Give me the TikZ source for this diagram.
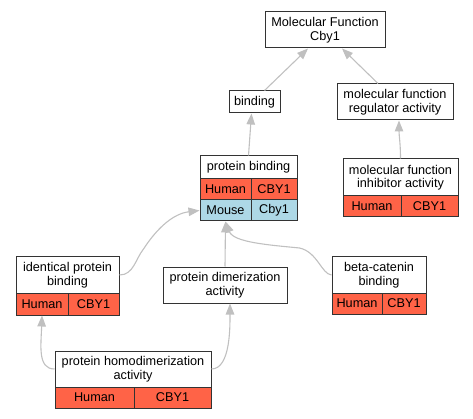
\documentclass[tikz,border=0pt]{standalone}
\usepackage{fontspec}
\setmainfont{Liberation Sans}
\usetikzlibrary{arrows.meta,calc}
\definecolor{tomatoc}{HTML}{FF6347}
\definecolor{lbluec}{HTML}{ADD8E6}
\definecolor{edgec}{HTML}{C0C0C0}
\tikzset{
  gobox/.style={draw=black!80, line width=1pt, fill=white, inner sep=0pt, align=center,
    font=\fontsize{12.7}{13.5}\selectfont},
  hcell/.style={gobox, fill=tomatoc},
  mcell/.style={gobox, fill=lbluec},
  isa/.style={draw=edgec, line width=1.1pt, -{Triangle[length=11pt,width=8.5pt]}},
}
\begin{document}
\begin{tikzpicture}[x=1pt,y=-1pt]
\useasboundingbox (0,0) rectangle (473,419);
% nodes
\node[gobox, minimum width=120, minimum height=36] (mf) at (325,30) {Molecular Function\\Cby1};
\node[gobox, minimum width=116, minimum height=36] (reg) at (395,102) {molecular function\\regulator activity};
\node[gobox, minimum width=115, minimum height=37] (inh) at (400.5,177.5) {molecular function\\inhibitor activity};
\node[hcell, minimum width=58, minimum height=21] (inhH) at (372,206.5) {Human};
\node[hcell, minimum width=57, minimum height=21] (inhC) at (429.5,206.5) {CBY1};
\node[gobox, minimum width=51, minimum height=22] (bind) at (254.5,102) {binding};
\node[gobox, minimum width=97, minimum height=23] (pb) at (248.5,167.5) {protein binding};
\node[hcell, minimum width=51, minimum height=21] (pbH1) at (225.5,189.5) {Human};
\node[hcell, minimum width=46, minimum height=21] (pbC1) at (274,189.5) {CBY1};
\node[mcell, minimum width=51, minimum height=21] (pbH2) at (225.5,210.5) {Mouse};
\node[mcell, minimum width=46, minimum height=21] (pbC2) at (274,210.5) {Cby1};
\node[gobox, minimum width=103, minimum height=36] (ipb) at (67.5,275) {identical protein\\binding};
\node[hcell, minimum width=52, minimum height=22] (ipbH) at (42,304) {Human};
\node[hcell, minimum width=51, minimum height=22] (ipbC) at (93.5,304) {CBY1};
\node[gobox, minimum width=124, minimum height=36] (pda) at (225,285) {protein dimerization\\activity};
\node[gobox, minimum width=94, minimum height=36] (bcb) at (379,275) {beta-catenin\\binding};
\node[hcell, minimum width=50, minimum height=21] (bcbH) at (357,303.5) {Human};
\node[hcell, minimum width=44, minimum height=21] (bcbC) at (404,303.5) {CBY1};
\node[gobox, minimum width=156, minimum height=36] (phd) at (133,369) {protein homodimerization\\activity};
\node[hcell, minimum width=79, minimum height=21] (phdH) at (94.5,397.5) {Human};
\node[hcell, minimum width=77, minimum height=21] (phdC) at (172.5,397.5) {CBY1};
% edges
\draw[isa] ($(bind.north)+(10,0)$) -- ($(mf.south)+(-17,0)$);
\draw[isa] ($(reg.north)+(-17,0)$) -- ($(mf.south)+(17,0)$);
\draw[isa] (inh.north) .. controls ($(inh.north)+(0,-15)$) and ($(reg.south)+(4,15)$) .. ($(reg.south)+(4,0)$);
\draw[isa] (pb.north) -- ($(bind.south)+(-3,0)$);
\draw[isa] (ipb.east) .. controls ($(ipb.east)+(14,0)$) and ($(ipb.east)+(16,-16)$) .. ($(ipb.east)+(24,-26)$)
  .. controls ($(ipb.east)+(39,-49)$) and ($(pbH2.west)+(-25,3)$) .. (pbH2.west);
\draw[isa] (pda.north) -- (pbH2.south);
\draw[isa] (bcb.west) .. controls ($(bcb.west)+(-10,-1)$) and ($(bcb.west)+(-14,-23)$) .. ($(bcb.west)+(-32,-27)$)
  .. controls ($(bcb.west)+(-62,-30)$) and ($(pbH2.south)+(8,21)$) .. (pbH2.south);
\draw[isa] (phd.west) .. controls ($(phd.west)+(-17,0)$) and ($(ipbH.south)+(-1,30)$) .. (ipbH.south);
\draw[isa] (phd.east) .. controls ($(phd.east)+(19,0)$) and ($(pda.south)+(5,23)$) .. ($(pda.south)+(5,0)$);
\end{tikzpicture}
\end{document}
